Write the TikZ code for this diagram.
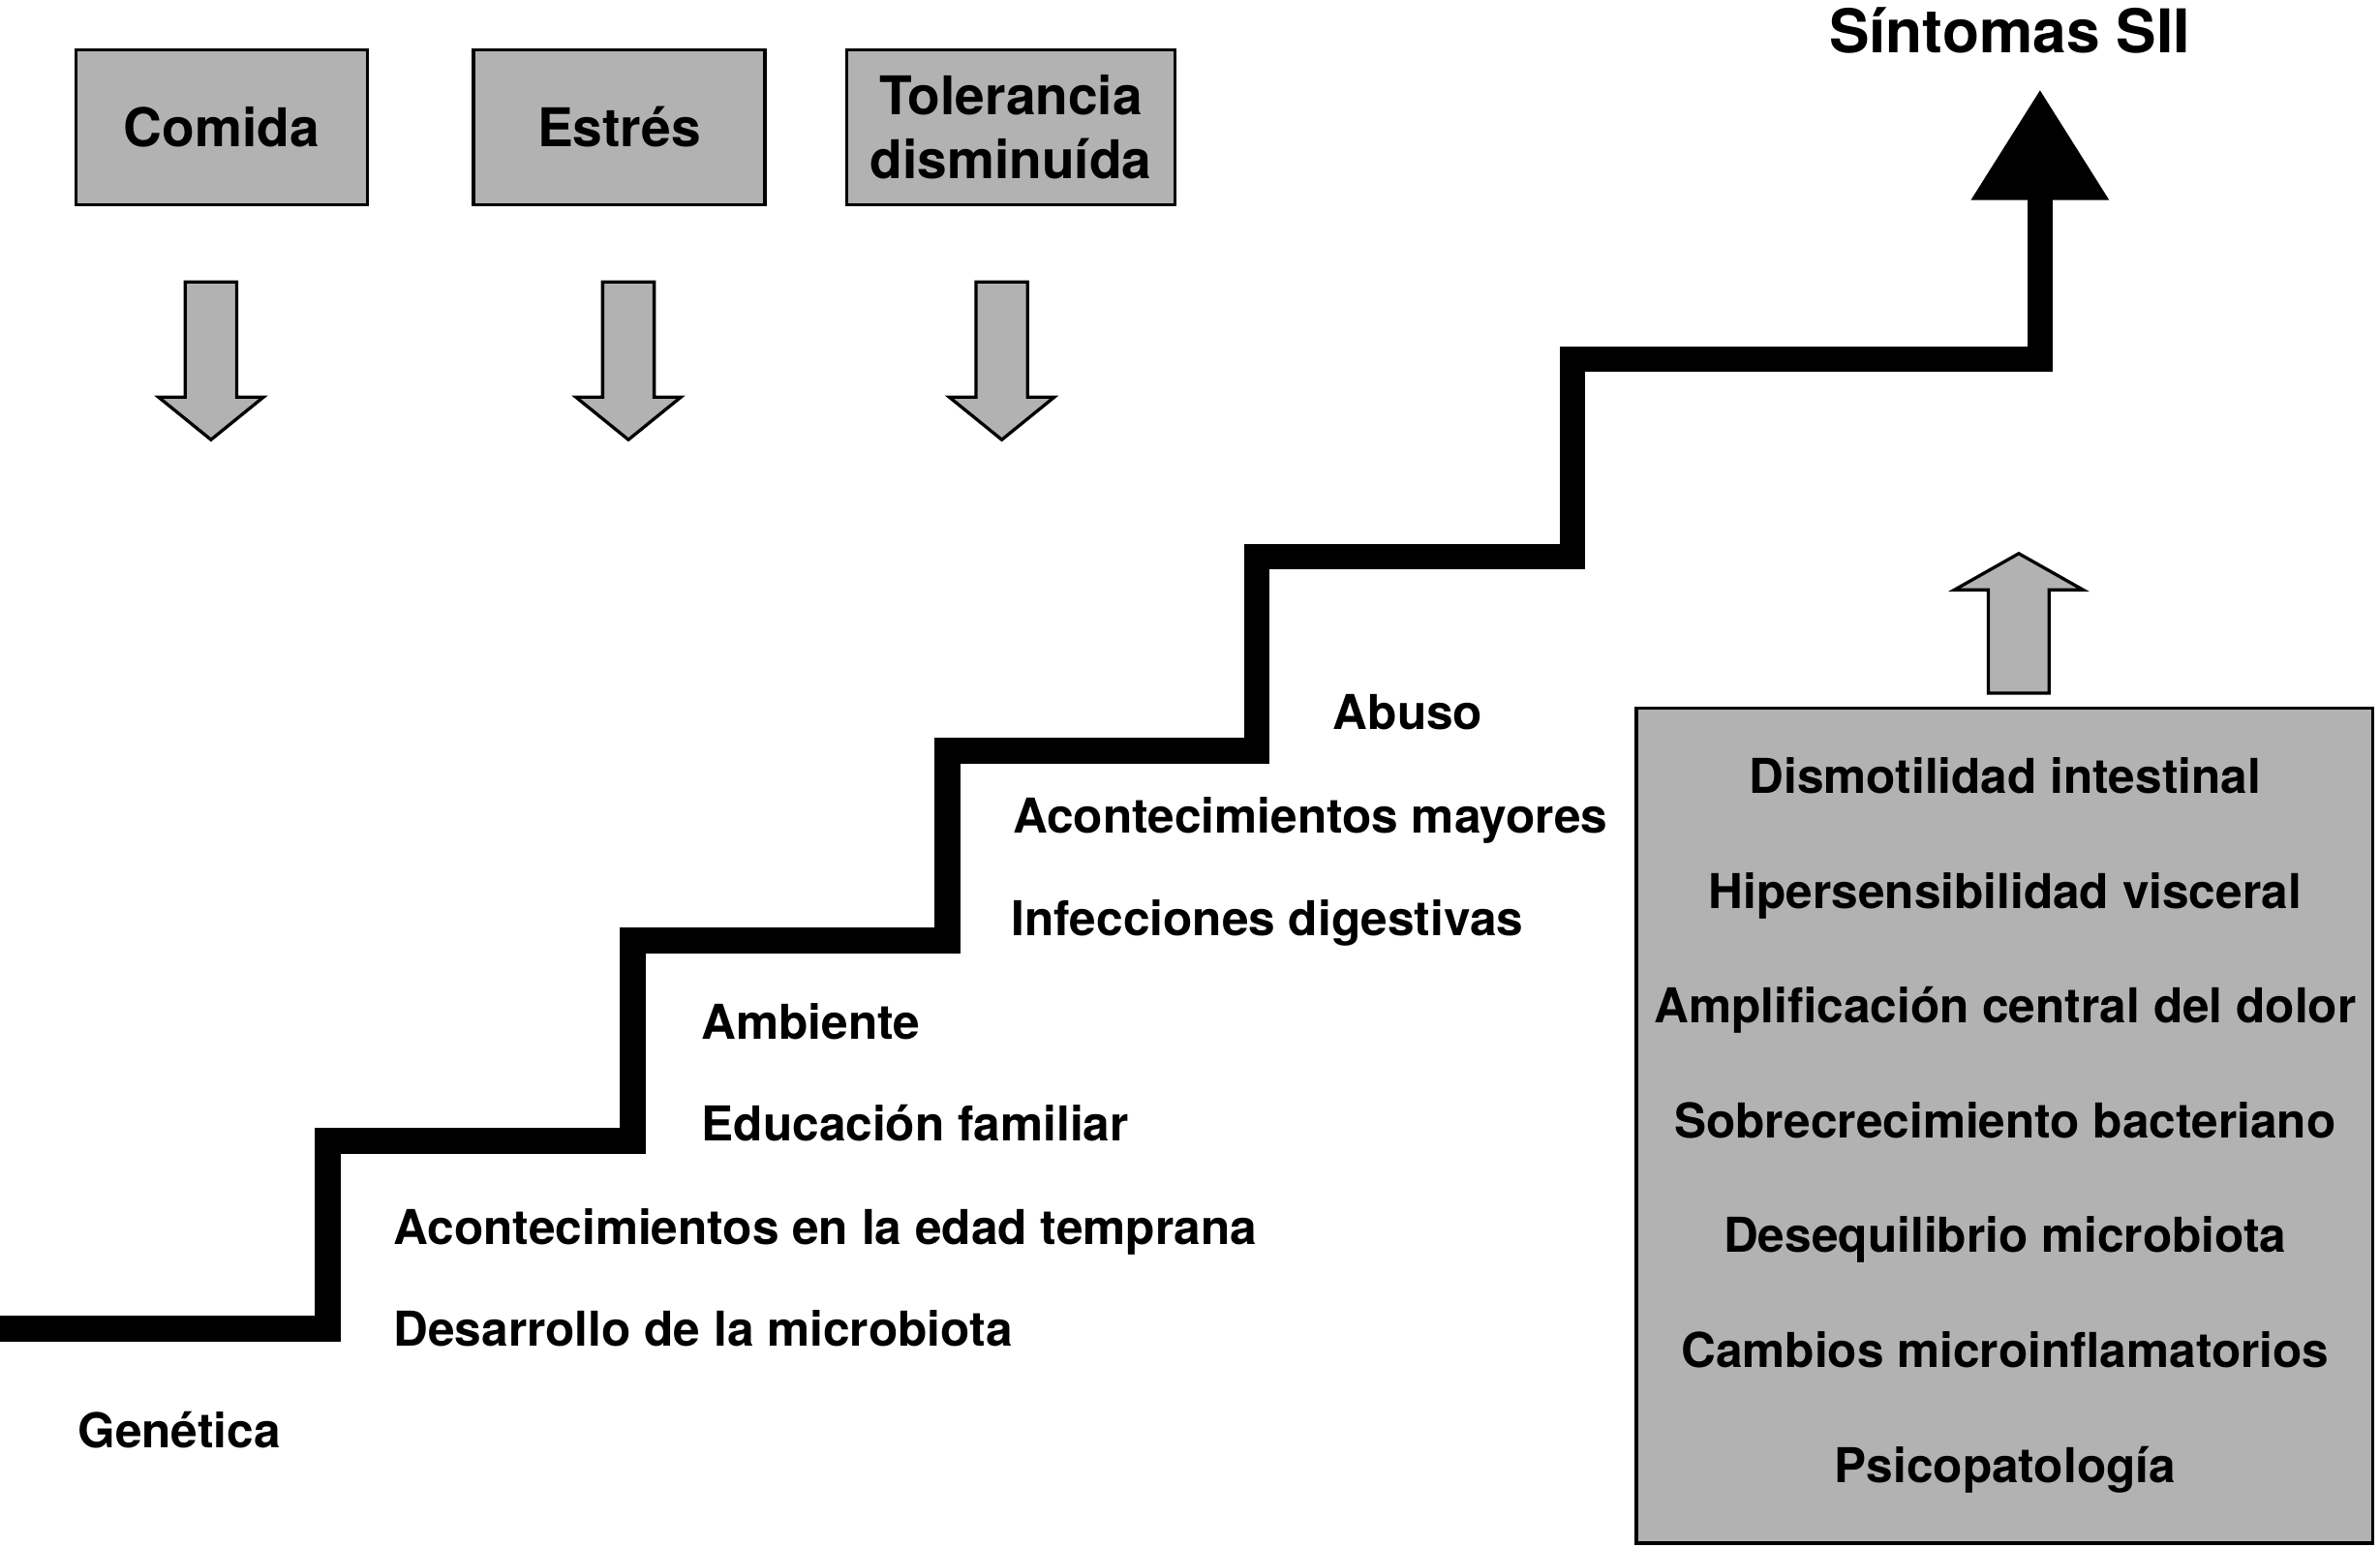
\documentclass[tikz,border=0pt]{standalone}
\usepackage{fontspec}
\setmainfont{TeX Gyre Heros}
\usetikzlibrary{arrows.meta}

\begin{document}
\begin{tikzpicture}[
  factor/.style={draw,line width=1.2pt,fill=black!30,minimum height=20.4mm,inner sep=0pt,align=center,font=\fontsize{20}{24}\selectfont\bfseries},
  steptext/.style={anchor=base west,inner sep=0pt,font=\fontsize{18}{21}\selectfont\bfseries},
  boxtext/.style={anchor=base,inner sep=0pt,font=\fontsize{18}{21}\selectfont\bfseries},
  graybox/.style={draw,line width=1.2pt,fill=black!30,line join=miter}
]
\useasboundingbox (0,0) rectangle (31.36,20.375);

% factores de arriba
\node[factor,minimum width=38.4mm] (comida) at (2.92,18.70) {Comida};
\node[factor,minimum width=38.4mm] (estres) at (8.16,18.70) {Estrés};
\node[factor,minimum width=43.2mm] (tolerancia) at (13.32,18.70) {Tolerancia\\disminuída};

\foreach \x in {2.78,8.28,13.20}
  \draw[graybox] (\x-0.34,16.66) -- (\x+0.34,16.66) -- (\x+0.34,15.14) -- (\x+0.69,15.14)
    -- (\x,14.58) -- (\x-0.69,15.14) -- (\x-0.34,15.14) -- cycle;

% escalera
\coordinate (inicio) at (0,2.86);
\coordinate (sii) at (26.88,19.20);
\draw[line width=9.7pt,line join=miter,-{Triangle[width=17.2mm,length=14.6mm]}]
  (inicio) -| (4.32,5.34) -| (8.34,7.98) -| (12.48,10.48) -| (16.56,13.04)
  -| (20.72,15.64) -| (sii);
\node[anchor=base,inner sep=0pt,font=\fontsize{22.6}{27}\selectfont\bfseries] (titulo) at (26.48,19.68) {Síntomas SII};

\node[steptext] (abuso) at (17.56,10.76) {Abuso};
\node[steptext] (mayores) at (13.34,9.40) {Acontecimientos mayores};
\node[steptext] (infecciones) at (13.32,8.04) {Infecciones digestivas};
\node[steptext] (ambiente) at (9.24,6.68) {Ambiente};
\node[steptext] (educacion) at (9.24,5.34) {Educación familiar};
\node[steptext] (temprana) at (5.18,3.98) {Acontecimientos en la edad temprana};
\node[steptext] (desarrollo) at (5.18,2.64) {Desarrollo de la microbiota};
\node[steptext] (genetica) at (1.02,1.30) {Genética};

% mecanismos
\draw[graybox] (26.20,11.24) -- (27.00,11.24) -- (27.00,12.60) -- (27.45,12.60)
  -- (26.60,13.08) -- (25.75,12.60) -- (26.20,12.60) -- cycle;
\node[draw,line width=1.2pt,fill=black!30,minimum width=97mm,minimum height=110mm] (mecanismos) at (26.41,5.54) {};
\foreach \t [count=\i from 0] in {Dismotilidad intestinal,Hipersensibilidad visceral,Amplificación central del dolor,Sobrecrecimiento bacteriano,Desequilibrio microbiota,Cambios microinflamatorios,Psicopatología}
  \node[boxtext] (m\i) at (26.42,9.92-1.513*\i) {\t};
\end{tikzpicture}
\end{document}
